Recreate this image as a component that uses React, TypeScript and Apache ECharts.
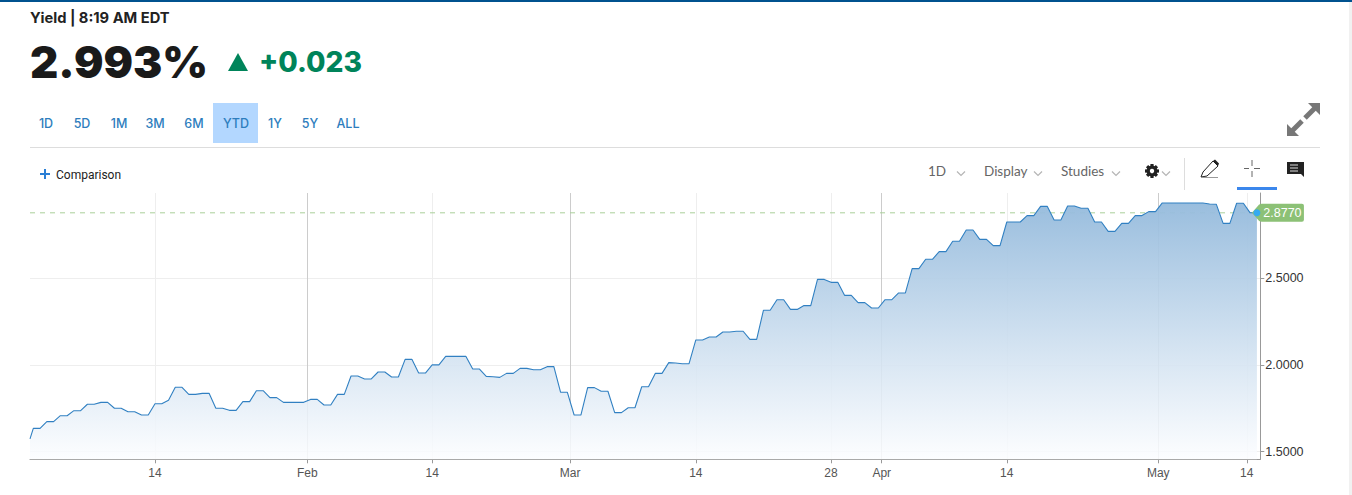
import React, { useEffect, useRef } from "react";
import * as echarts from "echarts";

const janValues = [1.573, 1.634, 1.634, 1.673, 1.673, 1.707, 1.707, 1.736, 1.736, 1.773, 1.773, 1.784, 1.784, 1.75, 1.75, 1.73, 1.73, 1.711, 1.711, 1.776, 1.776, 1.796, 1.871, 1.871, 1.83, 1.83, 1.836, 1.836, 1.75, 1.75, 1.738, 1.738, 1.788, 1.788, 1.851, 1.851, 1.811, 1.811, 1.784, 1.784, 1.784, 1.784, 1.801, 1.801, 1.769, 1.769];
const febValues = [1.83, 1.83, 1.936, 1.936, 1.919, 1.919, 1.959, 1.959, 1.93, 1.93, 2.032, 2.032, 1.953, 1.953, 2.0, 2.0, 2.049, 2.049, 2.049, 2.049, 1.976, 1.976, 1.934, 1.932, 1.928, 1.951, 1.951, 1.98, 1.98, 1.972, 1.972, 1.99, 1.99, 1.842, 1.842, 1.711, 1.711, 1.869, 1.869, 1.848, 1.848, 1.725, 1.725, 1.753, 1.753, 1.874, 1.874];
const marValues = [1.951, 1.951, 2.013, 2.011, 2.007, 2.007, 2.144, 2.144, 2.161, 2.161, 2.19, 2.19, 2.194, 2.194, 2.147, 2.147, 2.315, 2.315, 2.376, 2.376, 2.32, 2.32, 2.342, 2.342, 2.493, 2.493, 2.476, 2.476, 2.401, 2.401, 2.359, 2.359, 2.328, 2.328, 2.376, 2.376, 2.415, 2.415, 2.555, 2.555, 2.609, 2.609, 2.653, 2.653, 2.713, 2.713];
const aprValues = [2.778, 2.778, 2.724, 2.724, 2.688, 2.688, 2.824, 2.824, 2.824, 2.861, 2.861, 2.914, 2.914, 2.836, 2.836, 2.916, 2.916, 2.903, 2.903, 2.824, 2.824, 2.77, 2.77, 2.816, 2.816, 2.861, 2.861, 2.884, 2.884, 2.934, 2.934, 2.934, 2.934, 2.934, 2.934, 2.934, 2.928, 2.926, 2.816, 2.816, 2.932, 2.932, 2.877, 2.877];
const yieldValues = [...janValues, ...febValues, ...marValues, ...aprValues];

const xTickLabels = ["14", "Feb", "14", "Mar", "14", "28", "Apr", "14", "May", "14"];
const xTickPositions = [19, 41.54, 60, 80.4, 99, 119, 126.5, 145, 167.4, 180.5];
const xGridColors = ["#eeeeee", "#cccccc", "#eeeeee", "#cccccc", "#eeeeee", "#eeeeee", "#cccccc", "#eeeeee", "#cccccc", "#eeeeee"];
const yTicks = [1.5, 2, 2.5];
const lastValue = 2.877;
const rangeButtons = ["1D", "5D", "1M", "3M", "6M", "YTD", "1Y", "5Y", "ALL"];
const rangeCenters = [46, 82, 119, 155, 194, 236, 275, 310, 348];

const BLUE = "#2d7dbd";
const HEAD = "Inter, 'Noto Sans', sans-serif";
const UI = "Lato, 'Open Sans', sans-serif";
const AXIS_FONT = "'Liberation Sans', Arial, sans-serif";

function chevron(cx: number, cy: number) {
  return {
    type: "polyline",
    shape: { points: [[cx - 4, cy - 2.5], [cx, cy + 1.5], [cx + 4, cy - 2.5]] },
    style: { stroke: "#b5b5b5", lineWidth: 1.2, fill: "none" },
  };
}

function seg(x1: number, y1: number, x2: number, y2: number, stroke: string, lineWidth = 1) {
  return { type: "line", shape: { x1, y1, x2, y2 }, style: { stroke, lineWidth } };
}

function txt(x: number, y: number, text: string, fill: string, font: string, align = "left") {
  return { type: "text", x, y, style: { text, fill, font, align, verticalAlign: "middle" } };
}

function gear(cx: number, cy: number) {
  const teeth = [0, 45, 90, 135, 180, 225, 270, 315].map((deg) => ({
    type: "rect",
    x: cx,
    y: cy,
    rotation: (deg * Math.PI) / 180,
    shape: { x: -1.6, y: -7, width: 3.2, height: 3.5 },
    style: { fill: "#222" },
  }));
  return [
    ...teeth,
    { type: "ring", shape: { cx, cy, r: 5.4, r0: 2.2 }, style: { fill: "#222" } },
  ];
}

function buildGraphics() {
  const els: any[] = [
    { type: "rect", shape: { x: 0, y: 0, width: 1352, height: 2 }, style: { fill: "#00528f" } },
    { type: "rect", shape: { x: 1349, y: 2, width: 3, height: 493 }, style: { fill: "#f1f1f1" } },
    txt(30, 18, "Yield | 8:19 AM EDT", "#222", `700 14.7px ${HEAD}`),
    txt(30, 62.5, "2.993%", "#1a1a1a", `900 43.8px ${HEAD}`),
    { type: "polygon", shape: { points: [[228, 71], [238, 53], [248, 71]] }, style: { fill: "#00845a" } },
    txt(259, 62, "+0.023", "#00845a", `800 28.2px ${HEAD}`),
    { type: "rect", shape: { x: 213, y: 103, width: 45, height: 40 }, style: { fill: "#b3d7ff" } },
    { type: "rect", shape: { x: 30, y: 147, width: 1290, height: 1 }, style: { fill: "#dddddd" } },
    seg(40, 174, 50, 174, "#2a7fd5", 2),
    seg(45, 169, 45, 179, "#2a7fd5", 2),
    txt(56, 175, "Comparison", "#222", "12px Roboto, sans-serif"),
    txt(928, 171, "1D", "#666", `13.5px ${UI}`),
    chevron(961, 174),
    txt(984, 171, "Display", "#666", `13.5px ${UI}`),
    chevron(1038, 174),
    txt(1061, 171, "Studies", "#666", `13.5px ${UI}`),
    chevron(1116, 174),
    ...gear(1152, 171),
    chevron(1166, 174),
    seg(1184.5, 158, 1184.5, 190, "#dddddd"),
    { type: "polygon", shape: { points: [[1201, 177], [1203, 172], [1213, 161], [1218, 166], [1207, 176]] }, style: { fill: "#fff", stroke: "#222", lineWidth: 1 } },
    seg(1201, 177.5, 1218, 177.5, "#999"),
    { type: "polygon", shape: { points: [[1213, 161], [1215, 159.5], [1219, 163.5], [1218, 166]] }, style: { fill: "#222" } },
    seg(1244, 168.5, 1249, 168.5, "#666"),
    seg(1254, 168.5, 1260, 168.5, "#666"),
    seg(1252, 160, 1252, 166, "#666"),
    seg(1252, 171, 1252, 177, "#666"),
    { type: "rect", shape: { x: 1237, y: 187, width: 40, height: 3 }, style: { fill: "#3b87ec" } },
    { type: "polygon", shape: { points: [[1287, 162], [1304, 162], [1304, 177], [1301, 174], [1287, 174]] }, style: { fill: "#222" } },
    seg(1290, 165, 1298, 165, "#ddd"),
    seg(1290, 168, 1298, 168, "#ddd"),
    seg(1290, 171, 1298, 171, "#ddd"),
    { type: "polygon", shape: { points: [[1308, 103], [1320, 103], [1320, 115]] }, style: { fill: "#777" } },
    seg(1314.5, 108.5, 1305, 118, "#777", 5),
    { type: "polygon", shape: { points: [[1287, 124], [1287, 136], [1299, 136]] }, style: { fill: "#777" } },
    seg(1292.5, 130.5, 1302, 121, "#777", 5),
  ];
  rangeButtons.forEach((label, i) => {
    els.push(txt(rangeCenters[i], 123.5, label, BLUE, `500 12.5px ${HEAD}`, "center"));
  });
  return els;
}

export default function App() {
  const ref = useRef<HTMLDivElement>(null);
  useEffect(() => {
    document.body.style.margin = "0";
    const chart = echarts.init(ref.current!, null, { renderer: "svg" });
    const points = yieldValues.map((v, i) => [i === 0 ? 0.51 : i, v]);
    const lastX = yieldValues.length - 1;
    chart.setOption({
      animation: false,
      backgroundColor: "#ffffff",
      graphic: { elements: buildGraphics() },
      grid: { left: 30, top: 193, width: 1230.3, height: 266.3 },
      xAxis: {
        type: "value",
        min: 0.51,
        max: 182.5,
        axisLine: { show: true, lineStyle: { color: "#999999" } },
        axisTick: { show: true, length: 4, customValues: xTickPositions, lineStyle: { color: "#999999" } },
        axisLabel: {
          customValues: xTickPositions,
          color: "#555555",
          fontSize: 12,
          fontFamily: AXIS_FONT,
          margin: 8,
          hideOverlap: false,
          showMinLabel: true,
          showMaxLabel: true,
          formatter: (value: number) => xTickLabels[xTickPositions.indexOf(value)] ?? "",
        },
        splitLine: { show: true, lineStyle: { color: xGridColors, width: 1 } },
      },
      yAxis: {
        type: "value",
        position: "right",
        min: 1.4556,
        max: 2.9913,
        axisLine: { show: true, lineStyle: { color: "#999999" } },
        axisTick: { show: true, length: 4, customValues: yTicks, lineStyle: { color: "#999999" } },
        axisLabel: {
          customValues: yTicks,
          color: "#333333",
          fontSize: 12.5,
          fontFamily: AXIS_FONT,
          margin: 5,
          formatter: (value: number) => value.toFixed(4),
        },
        splitLine: { show: true, lineStyle: { color: "#eeeeee", width: 1 } },
      },
      series: [
        {
          type: "line",
          z: 1,
          silent: true,
          symbol: "none",
          data: [[0.51, lastValue], [lastX, lastValue]],
          lineStyle: { color: "#a9cf9a", type: [5, 5], width: 1 },
        },
        {
          type: "line",
          z: 2,
          data: points,
          symbol: "none",
          silent: true,
          lineStyle: { color: "#3180c2", width: 1.1 },
          areaStyle: {
            opacity: 1,
            color: new echarts.graphic.LinearGradient(0, 0, 0, 1, [
              { offset: 0, color: "rgba(148,186,220,0.95)" },
              { offset: 1, color: "rgba(252,253,255,0.85)" },
            ]),
          },
          markPoint: {
            silent: true,
            data: [
              {
                coord: [lastX, lastValue],
                symbol: "path://M0 9 L7 1 Q8 0 10 0 L50 0 Q52 0 52 2 L52 16 Q52 18 50 18 L10 18 Q8 18 7 17 Z",
                symbolSize: [52, 18],
                symbolOffset: [21, 0],
                symbolKeepAspect: false,
                itemStyle: { color: "#8cc176" },
                label: {
                  show: true,
                  position: "inside",
                  offset: [4.5, 0],
                  formatter: lastValue.toFixed(4),
                  color: "#ffffff",
                  fontSize: 12.5,
                  fontFamily: AXIS_FONT,
                },
              },
              {
                coord: [lastX, lastValue],
                symbol: "circle",
                symbolSize: 7,
                itemStyle: { color: "#35aaf0" },
                label: { show: false },
              },
            ],
          },
        },
      ],
    });
    return () => chart.dispose();
  }, []);
  return <div ref={ref} style={{ width: 1352, height: 495 }} />;
}
